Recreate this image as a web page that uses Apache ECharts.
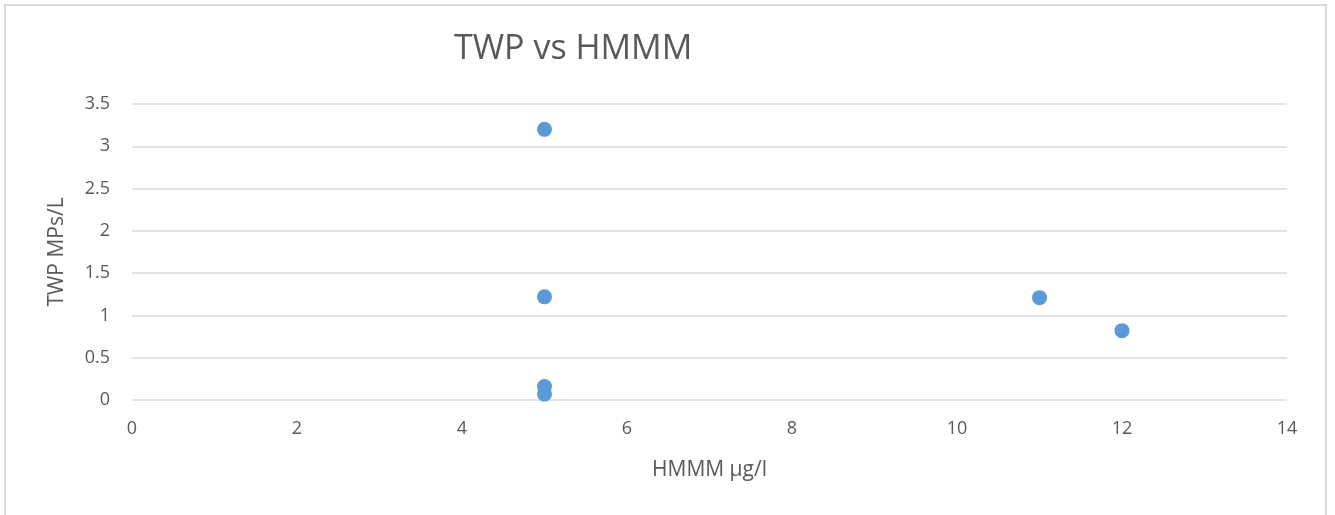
<!DOCTYPE html>
<html>
<head>
<meta charset="utf-8">
<script src="https://cdn.jsdelivr.net/npm/echarts@6/dist/echarts.min.js"></script>
<style>
  html, body { margin: 0; padding: 0; background: #fff; }
  #chart { width: 1335px; height: 515px; }
</style>
</head>
<body>
<div id="chart"></div>
<script>
// HMMM (µg/l) against TWP (MPs/L)
var hmmm = [5, 5, 5, 5, 11, 12]
var twp = [3.2, 1.22, 0.16, 0.07, 1.21, 0.82]

var points = hmmm.map(function(x, i) {
  return [x, twp[i]]
})

var textColor = '#595959'
var font = '"Open Sans", "Noto Sans", sans-serif'

var chart = echarts.init(document.getElementById('chart'))
chart.setOption({
  animation: false,
  backgroundColor: '#fff',
  title: {
    text: 'TWP vs HMMM',
    left: 449,
    top: 27,
    textStyle: {
      color: textColor,
      fontFamily: font,
      fontSize: 34,
      fontWeight: 'normal'
    }
  },
  graphic: [
    {
      type: 'rect',
      silent: true,
      shape: { x: 5, y: 5, width: 1321, height: 530 },
      style: { fill: 'none', stroke: '#d9d9d9', lineWidth: 2 }
    }
  ],
  grid: {
    left: 132,
    right: 48,
    top: 104,
    bottom: 115
  },
  xAxis: {
    type: 'value',
    min: 0,
    max: 14,
    interval: 2,
    name: 'HMMM µg/l',
    nameLocation: 'middle',
    nameGap: 60,
    nameTextStyle: { color: textColor, fontFamily: font, fontSize: 21 },
    axisLine: { show: false },
    axisTick: { show: false },
    splitLine: { show: false },
    axisLabel: { color: textColor, fontFamily: font, fontSize: 18, margin: 20 }
  },
  yAxis: {
    type: 'value',
    min: 0,
    max: 3.5,
    interval: 0.5,
    name: 'TWP MPs/L',
    nameLocation: 'middle',
    nameGap: 64,
    nameTextStyle: { color: textColor, fontFamily: font, fontSize: 21 },
    axisLine: { show: false },
    axisTick: { show: false },
    splitLine: { lineStyle: { color: '#d9d9d9', width: 1.5 } },
    axisLabel: { color: textColor, fontFamily: font, fontSize: 18, margin: 22 }
  },
  series: [
    {
      type: 'scatter',
      data: points,
      symbolSize: 15,
      itemStyle: { color: '#5b9bd5', opacity: 1 }
    }
  ]
})
</script>
</body>
</html>
